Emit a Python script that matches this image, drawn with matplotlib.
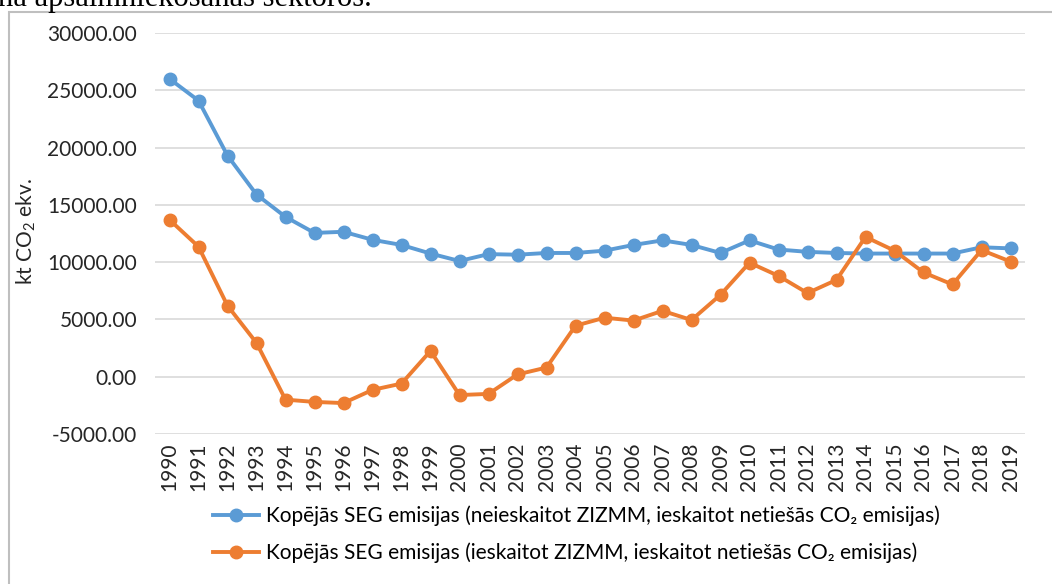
import numpy as np
import matplotlib
matplotlib.use('Agg')
import matplotlib.pyplot as plt
from matplotlib.patches import Rectangle

years = [str(y) for y in range(1990, 2020)]
bez_zizmm = [26000, 24100, 19300, 15900, 13950, 12550, 12650, 11950, 11500, 10750,
             10100, 10700, 10650, 10800, 10800, 11000, 11500, 11900, 11500, 10800,
             11900, 11100, 10900, 10800, 10750, 10750, 10750, 10750, 11300, 11200]
ar_zizmm = [13700, 11350, 6200, 2950, -2000, -2200, -2300, -1150, -600, 2250,
            -1600, -1500, 200, 800, 4450, 5150, 4900, 5750, 4950, 7150,
            9950, 8800, 7300, 8450, 12200, 11000, 9100, 8050, 11050, 10050]
labels = ['Kopējās SEG emisijas (neieskaitot ZIZMM, ieskaitot netiešās CO₂ emisijas)',
          'Kopējās SEG emisijas (ieskaitot ZIZMM, ieskaitot netiešās CO₂ emisijas)']
colors = ['#5B9BD5', '#ED7D31']

plt.rcParams['font.family'] = ['Lato', 'DejaVu Sans']
plt.rcParams['mathtext.default'] = 'regular'

fig = plt.figure(figsize=(10.52, 5.84), dpi=100)
ax = fig.add_axes([155/1052, 1 - 434/584, 870/1052, 401/584])

x = np.arange(len(years))
ax.plot(x, bez_zizmm, marker='o', color=colors[0], lw=2.8, ms=9, label=labels[0])
ax.plot(x, ar_zizmm, marker='o', color=colors[1], lw=2.8, ms=9, label=labels[1])

ax.set_xlim(-0.5, len(years) - 0.5)
ax.set_ylim(-5000, 30000)
ax.set_yticks(np.arange(-5000, 30001, 5000))
ax.set_yticklabels(['%.2f' % v for v in np.arange(-5000, 30001, 5000)])
ax.set_xticks(x)
ax.set_xticklabels(years, rotation=90)
ax.tick_params(axis='y', length=0, pad=13, labelsize=15, labelcolor='#262626')
ax.tick_params(axis='x', length=0, pad=6, labelsize=15, labelcolor='#262626')
ax.grid(axis='y', color='#D9D9D9', lw=1.2)
ax.set_axisbelow(True)
for s in ax.spines.values():
    s.set_visible(False)
ax.set_ylabel('kt CO$_2$ ekv.', fontsize=15, color='#262626')
ax.yaxis.set_label_coords(-(155 - 38)/870, 0.505)

fig.legend(loc='upper left', bbox_to_anchor=(203/1052, 1 - 495/584), frameon=False,
           fontsize=15, handlelength=2.2, handletextpad=0.3, labelspacing=0.8,
           borderpad=0)

fig.patches.append(Rectangle((9/1052, -0.1), 1.2, 1 - 12/584 + 0.1, transform=fig.transFigure,
                             fill=False, edgecolor='#BFBFBF', lw=1.5))
fig.text(-0.002, 1 - 6/584, 'na apsaimniekošanas sektoros.', family='Liberation Serif',
         fontsize=22, va='baseline', ha='left', color='black')

plt.savefig('out.png', dpi=100)
